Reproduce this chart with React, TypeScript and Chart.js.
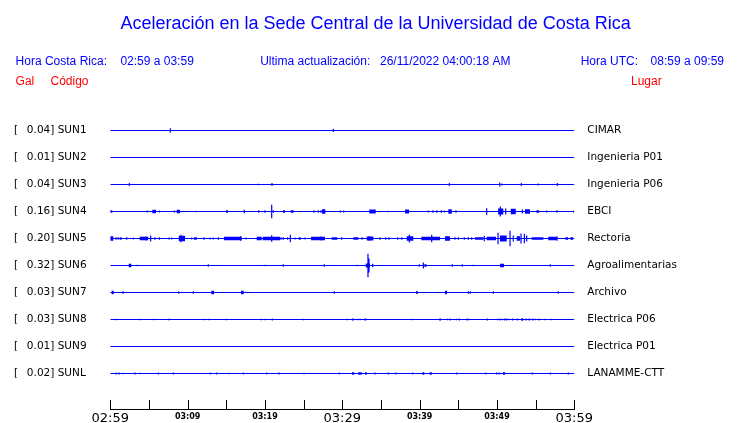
import React, { useEffect, useRef } from 'react';
import { Chart, registerables } from 'chart.js';

Chart.register(...registerables);

// ---------- text ----------
const TITLE = 'Aceleración en la Sede Central de la Universidad de Costa Rica';
const HDR_CR_LABEL = 'Hora Costa Rica:';
const HDR_CR_VALUE = '02:59 a 03:59';
const HDR_UPD_LABEL = 'Ultima actualización:';
const HDR_UPD_VALUE = '26/11/2022 04:00:18 AM';
const HDR_UTC_LABEL = 'Hora UTC:';
const HDR_UTC_VALUE = '08:59 a 09:59';
const COL_GAL = 'Gal';
const COL_CODE = 'Código';
const COL_PLACE = 'Lugar';

// ---------- stations ----------
const CODES = ['SUN1', 'SUN2', 'SUN3', 'SUN4', 'SUN5', 'SUN6', 'SUN7', 'SUN8', 'SUN9', 'SUNL'];
const PEAKS = ['0.04', '0.01', '0.04', '0.16', '0.20', '0.32', '0.03', '0.03', '0.01', '0.02'];
const PLACES = ['CIMAR', 'Ingenieria P01', 'Ingenieria P06', 'EBCI', 'Rectoria', 'Agroalimentarias', 'Archivo', 'Electrica P06', 'Electrica P01', 'LANAMME-CTT'];

// ---------- time axis (minutes after 02:59) ----------
const X_MIN = 0;
const X_MAX = 60;
const X_TICK_STEP = 5;
const X_LABEL_MINUTES = [0, 10, 20, 30, 40, 50, 60];
const X_LABELS = ['02:59', '03:09', '03:19', '03:29', '03:39', '03:49', '03:59'];
const X_MAJOR_MINUTES = [0, 30, 60];

// ---------- traces: spikes [minute, half-amplitude], bursts [start, end, half-amplitude] ----------
const SUN1_SPIKES = [[7.76, 2.3], [28.84, 1.5]];
const SUN1_BURSTS: number[][] = [];

const SUN2_SPIKES: number[][] = [];
const SUN2_BURSTS: number[][] = [];

const SUN3_SPIKES = [[2.46, 1.5], [19.14, 0.8], [20.91, 1.5], [43.84, 1.5], [50.36, 2], [50.65, 1], [53.15, 1.5], [55.35, 1], [57.8, 1.5]];
const SUN3_BURSTS: number[][] = [];

const SUN4_SPIKES = [[4.78, 1], [6.34, 1], [8.28, 1], [11.12, 0.7], [17.33, 1.7], [19.19, 1.3], [20.0, 1.3], [20.87, 6.7], [21.08, 1.3], [26.34, 1.3], [26.9, 1.3], [27.25, 1.3], [29.74, 1], [30.18, 1], [35.87, 0.7], [41.12, 1], [41.73, 1.3], [42.21, 1.3], [42.8, 1.3], [43.19, 1], [44.7, 1.3], [48.67, 3.3], [50.43, 5], [51.13, 3], [53.28, 2], [56.43, 1], [57.77, 1.3], [59.95, 1]];
const SUN4_BURSTS = [[0, 0.26, 1.3], [5.43, 5.91, 1.7], [8.59, 9.01, 1.7], [14.96, 15.22, 1.3], [22.33, 22.59, 1.3], [23.33, 23.72, 1.3], [27.38, 27.81, 2.3], [33.49, 34.32, 2], [38.11, 38.63, 2], [43.71, 44.15, 2.3], [50.14, 50.82, 3], [51.78, 52.43, 2.7], [53.63, 54.27, 2.3], [55.1, 55.44, 1.3]];

const SUN5_SPIKES = [[0.74, 1.3], [1.03, 1.3], [2.12, 1.3], [2.97, 1], [4.62, 2], [5.22, 3], [5.78, 1.3], [6.34, 1.3], [7.59, 1], [7.94, 1], [9.14, 3.7], [10.53, 1], [12.12, 1.3], [12.89, 1], [13.32, 1], [13.97, 1.3], [16.86, 2.3], [17.55, 1], [20.87, 3.3], [22.07, 1.3], [22.37, 1.3], [22.94, 1.3], [23.28, 3.7], [23.88, 1], [25.18, 1], [27.25, 2], [29.92, 1.3], [32.55, 1.3], [33.49, 2.3], [34.88, 1.3], [35.61, 1.3], [36.04, 1.3], [37.17, 1.3], [37.68, 1.3], [38.67, 4], [41.56, 3.7], [44.57, 1.3], [45.0, 1.3], [45.78, 1.3], [46.29, 1.3], [46.73, 1.3], [48.36, 2.7], [50.14, 5.7], [51.69, 7.8], [52.11, 3], [53.11, 5], [53.54, 4.7], [53.85, 3], [57.77, 2.3]];
const SUN5_BURSTS = [[0, 0.39, 2.3], [1.22, 1.47, 1.3], [3.8, 4.91, 1.7], [8.85, 9.66, 2.7], [10.82, 11.2, 1.3], [14.7, 16.99, 1.7], [18.93, 19.58, 1.7], [19.71, 21.94, 1.7], [24.36, 24.62, 1.3], [25.95, 27.76, 1.7], [28.63, 29.35, 1.3], [31.42, 32.07, 1.3], [33.16, 34.01, 2], [38.33, 39.18, 2.3], [40.22, 42.63, 1.7], [43.28, 43.93, 2.3], [47.16, 48.23, 1.3], [48.67, 49.88, 1.7], [50.39, 51.26, 3], [52.55, 52.98, 2.3], [54.49, 55.99, 1.3], [56.64, 57.73, 1.7], [58.85, 59.2, 1.3], [59.5, 59.85, 1.3]];

const SUN6_SPIKES = [[3.49, 0.7], [12.67, 1.3], [20.04, 0.7], [22.37, 1.3], [27.67, 1.3], [31.94, 0.7], [33.32, 11.7], [33.45, 7], [33.93, 1.7], [39.96, 1.3], [40.48, 3], [44.23, 1.3], [45.52, 1.3], [46.94, 0.7], [56.9, 1.3]];
const SUN6_BURSTS = [[2.38, 2.72, 1.7], [33.03, 33.58, 2], [40.6, 40.9, 1.3], [50.39, 50.91, 1.7]];

const SUN7_SPIKES = [[8.85, 1.3], [10.73, 1.3], [28.97, 1.3], [46.29, 1.3], [46.55, 1.3], [49.53, 1.3], [57.93, 1.3]];
const SUN7_BURSTS = [[0.18, 0.44, 1.7], [1.56, 1.73, 1.3], [13.07, 13.41, 1.7], [16.9, 17.25, 1.7], [39.53, 39.79, 1.3], [43.28, 43.54, 1.7]];

const SUN8_SPIKES = [[0.7, 0.7], [3.88, 0.7], [5.61, 0.7], [12.16, 0.7], [12.8, 0.7], [15.0, 0.7], [19.53, 0.7], [20.04, 0.7], [20.95, 1], [24.96, 0.7], [30.65, 0.7], [31.94, 0.7], [32.29, 0.7], [38.98, 0.7], [43.58, 0.7], [43.93, 1], [44.74, 0.7], [45.13, 1], [46.13, 1], [46.39, 0.7], [48.75, 1], [50.05, 0.7], [50.36, 1], [50.69, 0.7], [51.0, 1], [51.26, 1], [51.6, 0.7], [52.04, 1], [52.63, 1], [53.76, 1], [54.62, 1], [54.92, 0.7], [55.44, 1], [56.18, 0.7], [56.99, 0.7]];
const SUN8_BURSTS = [[7.46, 7.67, 0.8], [31.23, 31.48, 1], [32.85, 33.1, 1], [42.52, 42.78, 1], [53.15, 53.41, 1.3], [54.08, 54.27, 1]];

const SUN9_SPIKES: number[][] = [];
const SUN9_BURSTS: number[][] = [];

const SUNL_SPIKES = [[0.74, 1], [1.13, 1], [1.68, 0.7], [3.19, 1], [3.88, 0.7], [6.21, 1], [8.15, 1], [12.93, 1], [13.76, 1], [15.31, 0.7], [17.2, 1], [20.23, 1], [21.82, 1], [25.05, 0.7], [29.61, 1], [34.23, 1], [35.95, 1], [36.91, 1], [39.11, 1], [44.8, 1], [48.55, 1], [49.97, 1], [50.27, 1], [54.57, 1], [56.9, 1], [59.23, 1]];
const SUNL_BURSTS = [[31.26, 31.55, 1.3], [32.07, 32.51, 1.3], [32.94, 33.16, 1.3], [40.35, 40.6, 1.3], [41.3, 41.56, 1.3], [50.78, 51.04, 1.3]];

const SPIKES = [SUN1_SPIKES, SUN2_SPIKES, SUN3_SPIKES, SUN4_SPIKES, SUN5_SPIKES, SUN6_SPIKES, SUN7_SPIKES, SUN8_SPIKES, SUN9_SPIKES, SUNL_SPIKES];
const BURSTS = [SUN1_BURSTS, SUN2_BURSTS, SUN3_BURSTS, SUN4_BURSTS, SUN5_BURSTS, SUN6_BURSTS, SUN7_BURSTS, SUN8_BURSTS, SUN9_BURSTS, SUNL_BURSTS];

// ---------- layout / style ----------
const BLUE = '#0000ff';
const RED = '#ff0000';
const TRACE_GAP = 27;
const TRACE_BASE = 35.5;
const Y_MAX = 292;
const LABEL_FONT = 'DejaVu Sans';
const HEAD_FONT = 'Liberation Sans';

const zeroPadding = (scale: any) => {
  scale.paddingTop = 0;
  scale.paddingBottom = 0;
  scale.paddingLeft = 0;
  scale.paddingRight = 0;
};

const decorPlugin = {
  id: 'decor',
  afterDraw(chart: any) {
    const { ctx } = chart;
    const xs = chart.scales.x;
    ctx.save();
    // upward tick marks on time axis
    ctx.strokeStyle = '#000';
    ctx.lineWidth = 1;
    ctx.beginPath();
    xs.ticks.forEach((tk: any) => {
      const px = Math.round(xs.getPixelForValue(tk.value)) + 0.5;
      ctx.moveTo(px, xs.top);
      ctx.lineTo(px, xs.top - 9);
    });
    ctx.stroke();

    ctx.textAlign = 'left';
    ctx.textBaseline = 'alphabetic';
    ctx.fillStyle = BLUE;
    ctx.font = `18px '${HEAD_FONT}'`;
    ctx.fillText(TITLE, 120.4, 29.3);

    ctx.font = `12px '${HEAD_FONT}'`;
    ctx.fillText(HDR_CR_LABEL, 15.6, 65.3);
    ctx.fillText(HDR_CR_VALUE, 120.4, 65.3);
    ctx.fillText(HDR_UPD_LABEL, 260.2, 65.3);
    ctx.fillText(HDR_UPD_VALUE, 380, 65.3);
    ctx.fillText(HDR_UTC_LABEL, 580.7, 65.3);
    ctx.fillText(HDR_UTC_VALUE, 650.6, 65.3);

    ctx.fillStyle = RED;
    ctx.fillText(COL_GAL, 15.6, 85);
    ctx.fillText(COL_CODE, 50.5, 85);
    ctx.fillText(COL_PLACE, 631, 85);
    ctx.restore();
  },
};

export default function App() {
  const ref = useRef<HTMLCanvasElement>(null);

  useEffect(() => {
    const canvas = ref.current;
    if (!canvas) return;
    const n = CODES.length;
    const bases = CODES.map((_, i) => TRACE_BASE + (n - 1 - i) * TRACE_GAP);
    const datasets: any[] = [];

    CODES.forEach((code, i) => {
      const b = bases[i];
      const pts: any[] = [{ x: X_MIN, y: b }];
      SPIKES[i]
        .slice()
        .sort((p, q) => p[0] - q[0])
        .forEach(([t, a]) => {
          pts.push({ x: t, y: b }, { x: t, y: b + a }, { x: t, y: b - a }, { x: t, y: b });
        });
      pts.push({ x: X_MAX, y: b });
      datasets.push({
        type: 'line',
        label: code,
        data: pts,
        borderColor: BLUE,
        borderWidth: 1.2,
        pointRadius: 0,
        fill: false,
        tension: 0,
      });
      if (BURSTS[i].length) {
        const bp: any[] = [];
        BURSTS[i].forEach(([t1, t2, a]) => {
          bp.push({ x: t1, y: b + a }, { x: t2, y: b + a }, { x: t2, y: b - a }, { x: t1, y: b - a }, { x: t1, y: null });
        });
        datasets.push({
          type: 'line',
          label: code + ' burst',
          data: bp,
          borderColor: 'rgba(0,0,255,0)',
          backgroundColor: BLUE,
          borderWidth: 1,
          pointRadius: 0,
          fill: 'shape',
          tension: 0,
          spanGaps: false,
        });
      }
    });

    const chart = new Chart(canvas, {
      type: 'line',
      data: { datasets },
      plugins: [decorPlugin],
      options: {
        animation: false,
        responsive: false,
        devicePixelRatio: 1,
        events: [],
        layout: { padding: { top: 117, left: 14, right: 0, bottom: 0 } },
        plugins: { legend: { display: false }, tooltip: { enabled: false }, title: { display: false } },
        scales: {
          x: {
            type: 'linear',
            min: X_MIN,
            max: X_MAX,
            grid: { display: false, drawTicks: false },
            border: { display: true, color: '#000', width: 1 },
            afterBuildTicks: (scale: any) => {
              const ticks = [];
              for (let v = X_MIN; v <= X_MAX; v += X_TICK_STEP) ticks.push({ value: v });
              scale.ticks = ticks;
            },
            afterFit: (scale: any) => {
              scale.height = 14;
              zeroPadding(scale);
            },
            ticks: {
              autoSkip: false,
              maxRotation: 0,
              minRotation: 0,
              padding: 2,
              color: '#000',
              callback: (value: any) => {
                const k = X_LABEL_MINUTES.indexOf(Number(value));
                return k >= 0 ? X_LABELS[k] : '';
              },
              font: (ctx: any) => {
                const v = ctx.tick ? ctx.tick.value : 0;
                return X_MAJOR_MINUTES.includes(v)
                  ? { family: LABEL_FONT, size: 13, lineHeight: 1.2 }
                  : { family: LABEL_FONT, size: 8, weight: 'bold', lineHeight: 1.6 };
              },
            },
          },
          y: {
            type: 'linear',
            position: 'left',
            min: 0,
            max: Y_MAX,
            grid: { display: false, drawTicks: false },
            border: { display: false },
            afterBuildTicks: (scale: any) => {
              scale.ticks = bases.map((v) => ({ value: v }));
            },
            afterFit: (scale: any) => {
              scale.width = 96.3;
              zeroPadding(scale);
            },
            ticks: {
              autoSkip: false,
              crossAlign: 'far',
              padding: 0,
              color: '#000',
              font: { family: LABEL_FONT, size: 10.5 },
              callback: (_v: any, index: number) => `[  \u2009${PEAKS[index]}] ${CODES[index]}`,
            },
          },
          yR: {
            type: 'linear',
            position: 'right',
            display: true,
            min: 0,
            max: Y_MAX,
            grid: { display: false, drawTicks: false },
            border: { display: false },
            afterBuildTicks: (scale: any) => {
              scale.ticks = bases.map((v) => ({ value: v }));
            },
            afterFit: (scale: any) => {
              scale.width = 165.7;
              zeroPadding(scale);
            },
            ticks: {
              autoSkip: false,
              crossAlign: 'near',
              padding: 13,
              color: '#000',
              font: { family: LABEL_FONT, size: 10.5 },
              callback: (_v: any, index: number) => PLACES[index],
            },
          },
        },
      } as any,
    });

    return () => chart.destroy();
  }, []);

  return (
    <div style={{ position: 'fixed', left: 0, top: 0, width: 740, height: 423, background: '#fff' }}>
      <canvas ref={ref} width={740} height={423} style={{ display: 'block', width: 740, height: 423 }} />
    </div>
  );
}
